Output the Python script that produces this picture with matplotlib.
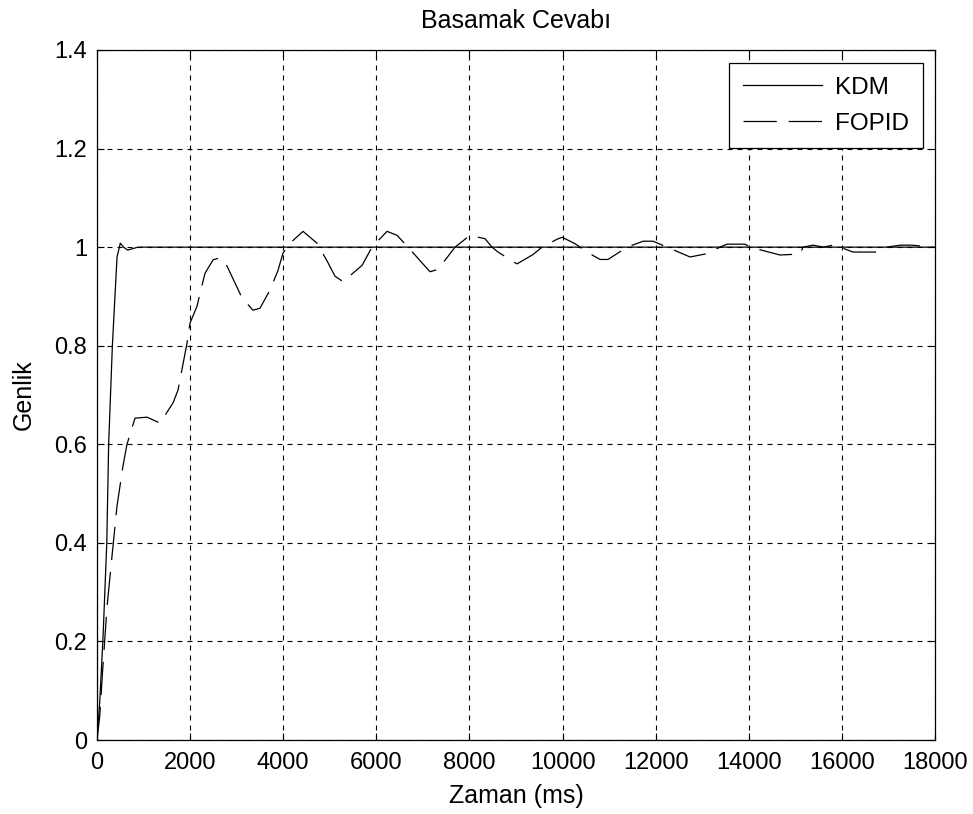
import matplotlib
matplotlib.use("Agg")
import matplotlib.pyplot as plt

# values
kdm_t = [0, 60, 130, 210, 250, 330, 430, 500, 570, 660, 880, 18000]
kdm_y = [0, 0.08, 0.21, 0.40, 0.60, 0.80, 0.98, 1.008, 1.0, 0.994, 1.0, 1.0]

fopid_t = [0, 60, 120, 215, 322, 430, 558, 644, 816, 1074, 1353, 1633, 1740,
           1933, 1998, 2148, 2212, 2320, 2492, 2620, 2750, 3115, 3350, 3500,
           3716, 3888, 3995, 4146, 4425, 4726, 4941, 5112, 5284, 5693, 5907,
           6229, 6444, 6680, 6981, 7153, 7325, 7690, 8012, 8334, 8484, 8613,
           9022, 9365, 9558, 9880, 9990, 10268, 10525, 10804, 10976, 11385,
           11729, 11943, 12244, 12738, 13060, 13382, 13532, 13919, 14026,
           14671, 15100, 15165, 15380, 15600, 15810, 15960, 16240, 16454,
           16754, 16969, 17250, 17500, 17957]
fopid_y = [0, 0.05, 0.14, 0.27, 0.373, 0.475, 0.556, 0.60, 0.653, 0.655, 0.643,
           0.684, 0.71, 0.805, 0.846, 0.88, 0.906, 0.947, 0.974, 0.978, 0.97,
           0.897, 0.872, 0.876, 0.913, 0.953, 0.988, 1.008, 1.032, 1.008,
           0.972, 0.941, 0.93, 0.963, 1.0, 1.032, 1.024, 1.0, 0.968, 0.95,
           0.955, 1.0, 1.024, 1.017, 1.0, 0.99, 0.966, 0.985, 1.0, 1.016,
           1.02, 1.007, 0.99, 0.975, 0.975, 1.0, 1.012, 1.012, 1.0, 0.98,
           0.986, 1.0, 1.006, 1.006, 1.0, 0.984, 0.986, 1.0, 1.004, 1.0,
           1.004, 1.0, 0.99, 0.99, 0.99, 1.0, 1.004, 1.004, 1.0]

x_ticks = list(range(0, 18001, 2000))
y_ticks = [0, 0.2, 0.4, 0.6, 0.8, 1, 1.2, 1.4]
y_tick_labels = ["0", "0.2", "0.4", "0.6", "0.8", "1", "1.2", "1.4"]

plt.rcParams["font.family"] = ["Liberation Sans", "DejaVu Sans"]
plt.rcParams["lines.scale_dashes"] = False
fs_tick = 17
fs_lab = 18

fig = plt.figure(figsize=(9.73, 8.14), dpi=100)
ax = fig.add_axes([0.0997, 0.0909, 0.8613, 0.8477])

ax.plot(kdm_t, kdm_y, color="black", lw=0.9, label="KDM")
ax.plot(fopid_t, fopid_y, color="black", lw=0.9, dashes=(24, 8.5), label="FOPID")

ax.set_xlim(0, 18000)
ax.set_ylim(0, 1.4)
ax.set_xticks(x_ticks)
ax.set_xticklabels([str(v) for v in x_ticks])
ax.set_yticks(y_ticks)
ax.set_yticklabels(y_tick_labels)
ax.tick_params(direction="in", length=5, width=0.8, top=True, right=True,
               labelsize=fs_tick, colors="black")
ax.tick_params(axis="x", pad=8.5)
ax.tick_params(axis="y", pad=7)
ax.grid(True, color="black", lw=0.8, dashes=(3.6, 3.6))
for sp in ax.spines.values():
    sp.set_linewidth(0.9)

ax.set_title("Basamak Cevabı", fontsize=fs_lab, pad=16)
ax.set_xlabel("Zaman (ms)", fontsize=fs_lab, labelpad=7)
ax.set_ylabel("Genlik", fontsize=fs_lab, labelpad=13.5)

leg = ax.legend(loc="upper right", bbox_to_anchor=(0.9857, 0.981), borderaxespad=0,
                fontsize=17.5, fancybox=False, framealpha=1, edgecolor="black",
                handlelength=3.25, handletextpad=0.53, borderpad=0.57,
                labelspacing=0.56)
leg.get_frame().set_linewidth(0.9)

fig.savefig("out.png", dpi=100)
